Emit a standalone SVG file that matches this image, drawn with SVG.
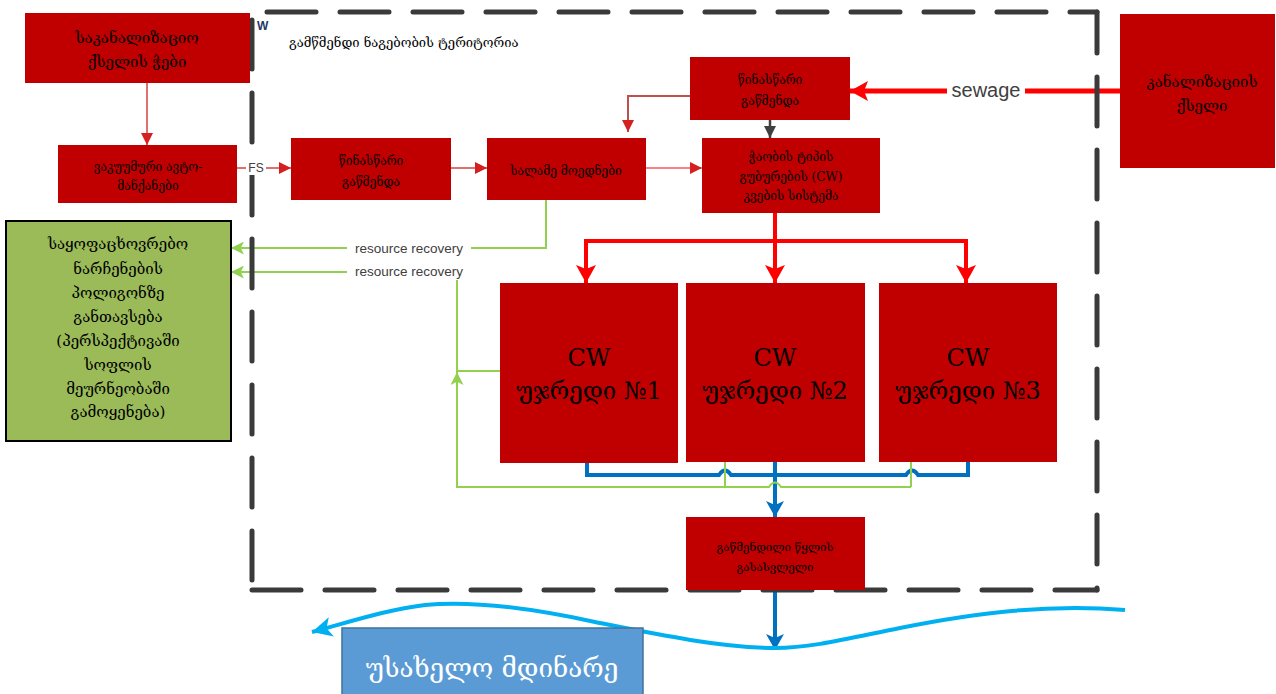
<svg xmlns="http://www.w3.org/2000/svg" width="1276" height="694" viewBox="0 0 1276 694">
<defs>
<style>
.box{fill:#C00000;}
.ka{font-family:"DejaVu Serif","DejaVu Sans",serif;fill:#000;text-anchor:middle;}
.en{font-family:"Liberation Sans","DejaVu Sans",sans-serif;fill:#404040;text-anchor:middle;}
.dash{fill:none;stroke:#3A3A3A;stroke-width:5;stroke-dasharray:49 24;stroke-linecap:round;}
.thin{fill:none;stroke:#E07070;stroke-width:2;}
.red{fill:none;stroke:#FF0000;stroke-width:4;}
.blue{fill:none;stroke:#0070C0;stroke-width:4;}
.green{fill:none;stroke:#92D050;stroke-width:2;}
</style>
<marker id="mRs" markerUnits="userSpaceOnUse" markerWidth="12" markerHeight="12" viewBox="0 0 12 12" refX="12" refY="6" orient="auto"><path d="M0,0 L12,6 L0,12 z" fill="#D42020"/></marker>
<marker id="mRb" markerUnits="userSpaceOnUse" markerWidth="18" markerHeight="20" viewBox="0 0 18 20" refX="18" refY="10" orient="auto"><path d="M0,0 L18,10 L0,20 L4,10 z" fill="#FF0000"/></marker>
<marker id="mG" markerUnits="userSpaceOnUse" markerWidth="12" markerHeight="12" viewBox="0 0 12 12" refX="12" refY="6" orient="auto"><path d="M0,0 L12,6 L0,12 z" fill="#404040"/></marker>
<marker id="mB" markerUnits="userSpaceOnUse" markerWidth="16" markerHeight="18" viewBox="0 0 16 18" refX="16" refY="9" orient="auto"><path d="M0,0 L16,9 L0,18 L4,9 z" fill="#0070C0"/></marker>
<marker id="mGr" markerUnits="userSpaceOnUse" markerWidth="13" markerHeight="13" viewBox="0 0 12 12" refX="12" refY="6" orient="auto"><path d="M0,0 L12,6 L0,12 L3,6 z" fill="#92D050"/></marker>
<marker id="mC" markerUnits="userSpaceOnUse" markerWidth="20" markerHeight="20" viewBox="0 0 20 20" refX="20" refY="10" orient="auto"><path d="M0,0 L20,10 L0,20 L5,10 z" fill="#00B0F0"/></marker>
</defs>
<rect width="1276" height="694" fill="#FFFFFF"/>

<g id="connectors">
<line x1="147" y1="83" x2="147" y2="145" stroke="#D04040" stroke-width="1.5" marker-end="url(#mRs)"/>
<line x1="237" y1="168" x2="291" y2="168" class="thin" marker-end="url(#mRs)"/>
<line x1="451" y1="168" x2="487" y2="168" class="thin" marker-end="url(#mRs)"/>
<polyline points="690,96 628,96 628,132" fill="none" stroke="#C0504D" stroke-width="2" marker-end="url(#mRs)"/>
<line x1="770" y1="120" x2="770" y2="138" stroke="#404040" stroke-width="2.5" marker-end="url(#mG)"/>
<line x1="646" y1="168" x2="702" y2="168" stroke="#FF8080" stroke-width="2" marker-end="url(#mRs)"/>
<line x1="1120" y1="91" x2="850" y2="91" stroke="#FF0000" stroke-width="5" marker-end="url(#mRb)"/>
<rect x="947" y="79" width="78" height="24" fill="#FFFFFF"/>
<text x="986" y="97" class="en" font-size="20">sewage</text>
<path d="M775,213 V283" class="red" marker-end="url(#mRb)"/>
<path d="M775,241 H586 V283" class="red" marker-end="url(#mRb)"/>
<path d="M775,241 H966 V283" class="red" marker-end="url(#mRb)"/>
<path d="M587,462 V475 H719 q6,-9 12,0 H906 q6,-9 12,0 H968 V462" class="blue"/>
<path d="M775,462 V517" class="blue" marker-end="url(#mB)"/>
<path d="M775,590 V650" class="blue" marker-end="url(#mB)"/>
<path d="M725,462 V487 M911,462 V487" class="green"/>
<path d="M911,487 H781 q-6,-9 -12,0 H457 V372" class="green" marker-end="url(#mGr)"/>
<path d="M500,371 H457 V272 H231" class="green" marker-end="url(#mGr)"/>
<path d="M546,200 V248 H231" class="green" marker-end="url(#mGr)"/>
<rect x="347" y="240" width="124" height="17" fill="#FFFFFF"/>
<text x="409" y="253" class="en" font-size="13.5">resource recovery</text>
<rect x="347" y="263" width="124" height="17" fill="#FFFFFF"/>
<text x="409" y="276" class="en" font-size="13.5">resource recovery</text>
<path d="M1125,610 C1050,604 980,612 900,628 C850,638 812,648 775,648 C720,648 645,632 595,622 C535,609 475,600 425,605 C385,610 350,622 312,632" fill="none" stroke="#00B0F0" stroke-width="4" marker-end="url(#mC)"/>
</g>

<g id="boundary">
<line x1="252" y1="12" x2="1097" y2="12" class="dash" stroke-dashoffset="58"/>
<line x1="1097" y1="12" x2="1097" y2="590" class="dash" stroke-dashoffset="8"/>
<line x1="252" y1="590" x2="1097" y2="590" class="dash"/>
<line x1="252" y1="12" x2="252" y2="590" class="dash" stroke-dashoffset="65"/>
</g>

<g id="connector-labels">
<rect x="246" y="161" width="20" height="14" fill="#FFFFFF"/>
<text x="256" y="172" class="en" font-size="12">FS</text>
</g>

<g id="title">
<text x="257" y="30" font-family="Liberation Sans, sans-serif" font-size="12" font-weight="bold" fill="#1F3864">W</text>
<text x="289" y="47" class="ka" font-size="13" style="text-anchor:start">გამწმენდი ნაგებობის ტერიტორია</text>
</g>

<g id="sewer-wells">
<rect class="box" x="25" y="13" width="225" height="70"/>
<text class="ka" x="137" y="43" font-size="15">საკანალიზაციო</text>
<text class="ka" x="137" y="67" font-size="15">ქსელის ჭები</text>
</g>

<g id="vacuum-trucks">
<rect class="box" x="58" y="145" width="179" height="58"/>
<text class="ka" x="148" y="171" font-size="12">ვაკუუმური ავტო-</text>
<text class="ka" x="148" y="190" font-size="12">მანქანები</text>
</g>

<g id="pretreat-left">
<rect class="box" x="291" y="138" width="160" height="62"/>
<text class="ka" x="371" y="165" font-size="12">წინასწარი</text>
<text class="ka" x="371" y="186" font-size="12">გაწმენდა</text>
</g>

<g id="sludge-beds">
<rect class="box" x="487" y="138" width="159" height="62"/>
<text class="ka" x="566" y="175" font-size="12">სალამე მოედნები</text>
</g>

<g id="pretreat-top">
<rect class="box" x="690" y="57" width="160" height="63"/>
<text class="ka" x="770" y="84" font-size="12">წინასწარი</text>
<text class="ka" x="770" y="105" font-size="12">გაწმენდა</text>
</g>

<g id="cw-feed">
<rect class="box" x="702" y="138" width="178" height="75"/>
<text class="ka" x="791" y="161" font-size="12">ჭაობის ტიპის</text>
<text class="ka" x="791" y="181" font-size="12">გუბურების (CW)</text>
<text class="ka" x="791" y="200" font-size="12">კვების სისტემა</text>
</g>

<g id="sewer-network">
<rect class="box" x="1120" y="14" width="155" height="154"/>
<text class="ka" x="1202" y="87" font-size="15">კანალიზაციის</text>
<text class="ka" x="1202" y="111" font-size="15">ქსელი</text>
</g>

<g id="household-waste">
<rect x="6" y="221" width="225" height="220" fill="#9BBB59" stroke="#000" stroke-width="2"/>
<text class="ka" x="118" y="249" font-size="15">საყოფაცხოვრებო</text>
<text class="ka" x="118" y="274" font-size="15">ნარჩენების</text>
<text class="ka" x="118" y="298" font-size="15">პოლიგონზე</text>
<text class="ka" x="118" y="322" font-size="15">განთავსება</text>
<text class="ka" x="118" y="346" font-size="15">(პერსპექტივაში</text>
<text class="ka" x="118" y="370" font-size="15">სოფლის</text>
<text class="ka" x="118" y="394" font-size="15">მეურნეობაში</text>
<text class="ka" x="118" y="417" font-size="15">გამოყენება)</text>
</g>

<g id="cw-cell-1">
<rect class="box" x="500" y="283" width="178" height="180"/>
<text class="ka" x="589" y="366" font-size="24">CW</text>
<text class="ka" x="589" y="399" font-size="24">უჯრედი №1</text>
</g>

<g id="cw-cell-2">
<rect class="box" x="686" y="283" width="179" height="179"/>
<text class="ka" x="775" y="366" font-size="24">CW</text>
<text class="ka" x="775" y="399" font-size="24">უჯრედი №2</text>
</g>

<g id="cw-cell-3">
<rect class="box" x="879" y="283" width="178" height="179"/>
<text class="ka" x="968" y="366" font-size="24">CW</text>
<text class="ka" x="968" y="399" font-size="24">უჯრედი №3</text>
</g>

<g id="outlet">
<rect class="box" x="686" y="517" width="179" height="73"/>
<text class="ka" x="775" y="551" font-size="11.5">გაწმენდილი წყლის</text>
<text class="ka" x="775" y="571" font-size="11.5">გასასვლელი</text>
</g>

<g id="river">
<rect x="342" y="628" width="301" height="68" fill="#5B9BD5" stroke="#41719C" stroke-width="1.5"/>
<text class="ka" x="492" y="677" font-size="26" style="fill:#FFFFFF">უსახელო მდინარე</text>
</g>
</svg>
